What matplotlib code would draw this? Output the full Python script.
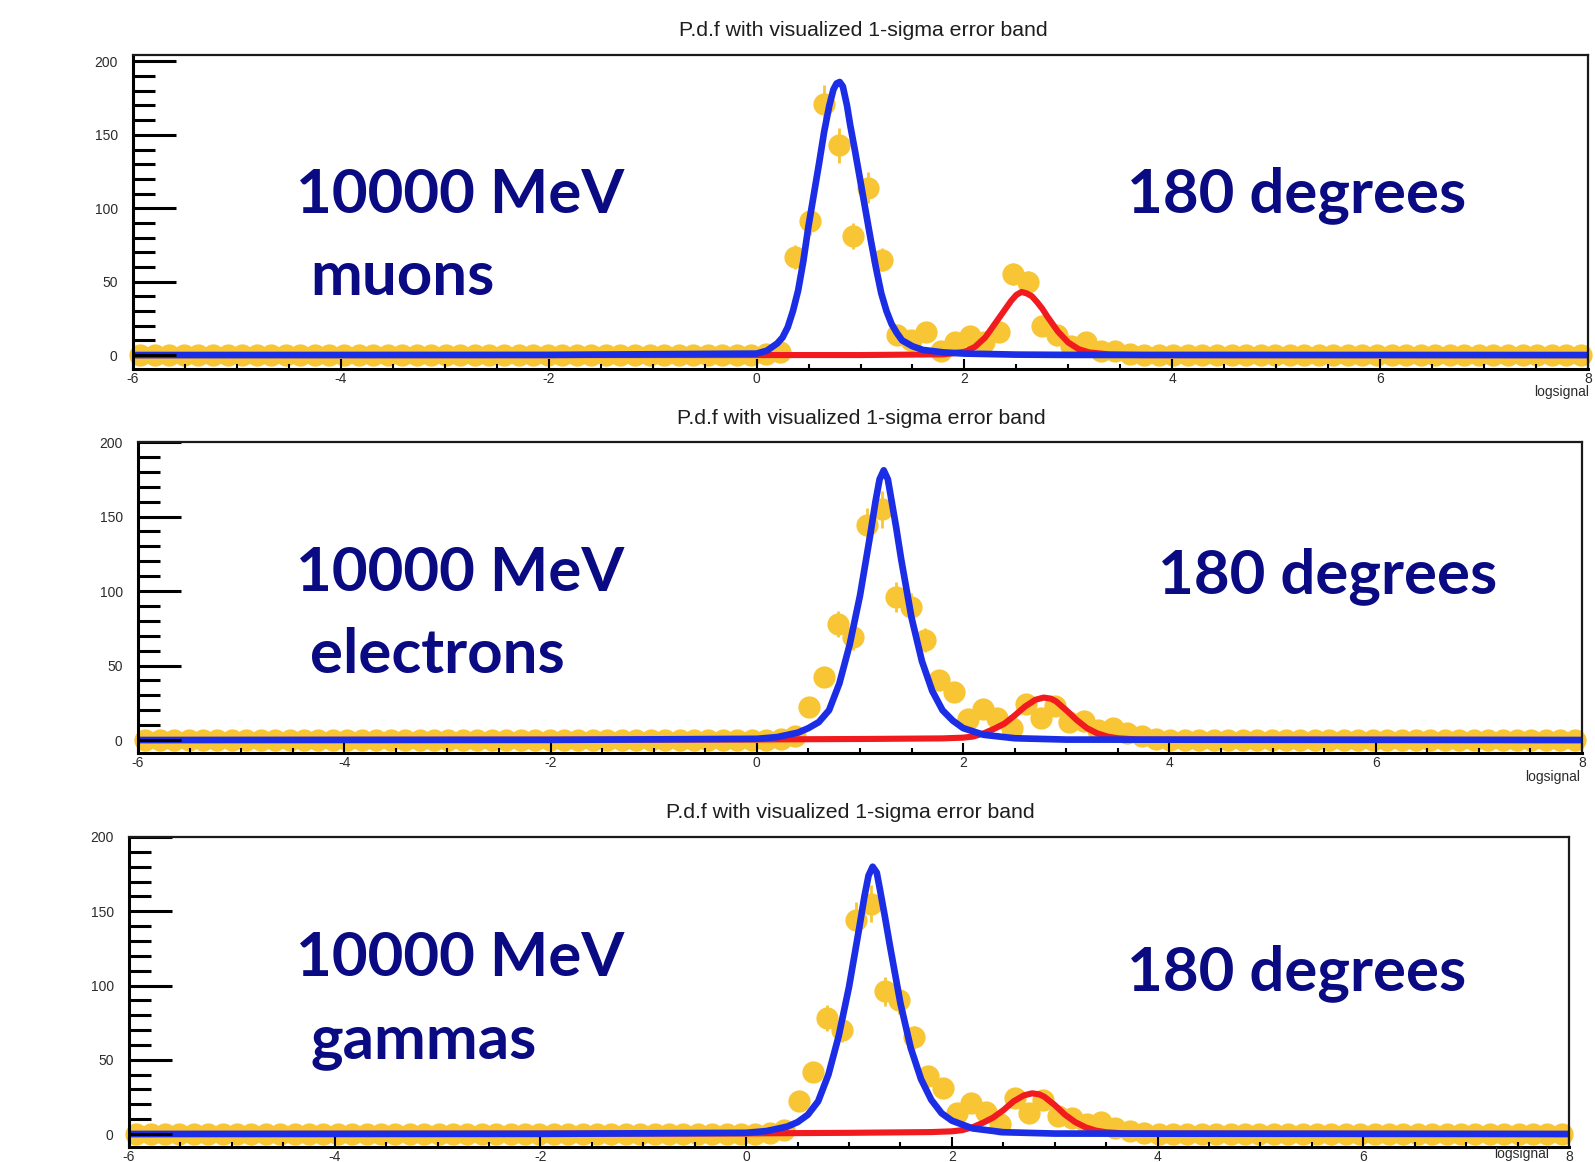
import numpy as np
import matplotlib.pyplot as plt
from matplotlib.ticker import MultipleLocator

# histogram binning (logsignal axis)
n_bins = 100
x_lo, x_hi = -6, 8

# counts per bin
muon_counts = [0] * 43 + [1, 2, 67, 91, 171, 143, 81, 114, 65, 14, 10, 16, 3, 9, 13,
                          9, 16, 55, 50, 20, 14, 6, 9, 3, 3, 1] + [0] * 31
electron_counts = [0] * 44 + [1, 3, 22, 42, 78, 69, 144, 155, 96, 89, 67, 40, 32, 14,
                              21, 15, 8, 24, 15, 23, 12, 13, 7, 8, 5, 3, 1] + [0] * 29
gamma_counts = [0] * 44 + [1, 3, 22, 42, 78, 70, 144, 155, 96, 90, 65, 39, 31, 14,
                           21, 15, 7, 24, 14, 23, 12, 11, 7, 8, 4, 2, 1] + [0] * 29

# fitted pdf components (blue = first peak, red = second peak)
muon_blue_x = [-6, -2, 0.0, 0.1, 0.2, 0.25, 0.3, 0.35, 0.4, 0.45, 0.5, 0.6, 0.65, 0.7,
               0.74, 0.77, 0.8, 0.83, 0.87, 0.9, 0.95, 1.0, 1.1, 1.15, 1.2, 1.25, 1.3,
               1.35, 1.4, 1.5, 1.6, 1.8, 2.0, 2.5, 3.0, 8]
muon_blue_y = [0, 0.1, 1.0, 3, 8, 12, 19, 30, 44, 64, 88, 130, 152, 170,
               181, 185, 186, 183, 170, 157, 138, 118, 78, 59, 42, 30, 21,
               15, 10, 6, 3.5, 1.8, 1.0, 0.3, 0.1, 0]
muon_red_x = [-6, 1.0, 1.8, 2.0, 2.1, 2.2, 2.3, 2.4, 2.45, 2.5, 2.55, 2.6, 2.65, 2.7,
              2.75, 2.8, 2.9, 3.0, 3.1, 3.2, 3.4, 3.7, 8]
muon_red_y = [0, 0, 0.5, 2.2, 5.5, 12, 22, 32, 37, 41, 43, 42, 40, 36,
              31.5, 26, 16, 8.5, 4, 1.8, 0.4, 0, 0]

electron_blue_x = [-6, -2, 0.0, 0.2, 0.4, 0.5, 0.6, 0.7, 0.8, 0.9, 1.0, 1.1, 1.15, 1.19,
                   1.23, 1.27, 1.3, 1.35, 1.4, 1.5, 1.6, 1.7, 1.8, 1.9, 2.0, 2.2, 2.5,
                   3.0, 8]
electron_blue_y = [0, 0.1, 0.8, 2, 5, 8, 12, 20, 38, 64, 97, 138, 160, 175,
                   181, 175, 163, 143, 121, 82, 53, 33, 20, 13, 8, 3.5, 1.2,
                   0.3, 0]
electron_red_x = [-6, 0.0, 1.0, 1.8, 2.0, 2.1, 2.2, 2.3, 2.4, 2.5, 2.6, 2.7, 2.78, 2.85,
                  2.9, 3.0, 3.1, 3.2, 3.3, 3.4, 3.5, 3.7, 8]
electron_red_y = [0, 0.4, 0.7, 1.1, 1.6, 2.4, 4.5, 7.5, 11, 16.5, 22.5, 27, 28.5, 27.8,
                  26, 20, 13.5, 8, 4.5, 2.3, 1.2, 0.3, 0]

gamma_blue_x = [-6, -2, 0.0, 0.2, 0.4, 0.5, 0.6, 0.7, 0.8, 0.9, 1.0, 1.1, 1.15, 1.19,
                1.23, 1.27, 1.3, 1.35, 1.4, 1.5, 1.6, 1.7, 1.8, 1.9, 2.0, 2.2, 2.5,
                3.0, 8]
gamma_blue_y = [0, 0.1, 0.8, 2, 5, 8, 13, 22, 40, 66, 99, 139, 160, 174,
                180, 176, 165, 146, 126, 88, 58, 37, 23, 14, 9, 3.8, 1.2,
                0.3, 0]
gamma_red_x = [-6, 0.0, 1.0, 1.8, 2.0, 2.1, 2.2, 2.3, 2.4, 2.5, 2.6, 2.7, 2.78, 2.85,
               2.9, 3.0, 3.1, 3.2, 3.3, 3.4, 3.5, 3.7, 8]
gamma_red_y = [0, 0.4, 0.8, 1.3, 1.8, 2.6, 4.5, 7.5, 11, 16, 22, 26, 27.4, 26.7,
               25, 19.5, 13, 8, 4.5, 2.3, 1.2, 0.3, 0]

particles = ['muons', 'electrons', 'gammas']
energy_label = '10000 MeV'
angle_label = '180 degrees'
title = 'P.d.f with visualized 1-sigma error band'

yellow = '#f8c534'
blue = '#1c2de6'
red = '#f01a1f'
navy = '#0a0a82'

W, H = 1595, 1162
plt.rcParams['font.family'] = ['Liberation Sans', 'DejaVu Sans']
plt.rcParams['axes.unicode_minus'] = False
fig = plt.figure(figsize=(W / 100, H / 100), dpi=100)


def px_rect(left, right, top, bottom):
    return [left / W, 1 - bottom / H, (right - left) / W, (bottom - top) / H]


panels = [
    dict(rect=px_rect(133, 1588, 55, 369), ylim=(-9.5, 204.4), counts=muon_counts,
         bx=muon_blue_x, by=muon_blue_y, rx=muon_red_x, ry=muon_red_y,
         title_xy=(863, 31), logsig_xy=(1562, 392), logsig_va='center',
         e_xy=(296, 213), p_xy=(310, 295), a_xy=(1127, 212)),
    dict(rect=px_rect(138, 1582, 442, 753), ylim=(-8.7, 200), counts=electron_counts,
         bx=electron_blue_x, by=electron_blue_y, rx=electron_red_x, ry=electron_red_y,
         title_xy=(861, 418), logsig_xy=(1553, 777), logsig_va='center',
         e_xy=(296, 591), p_xy=(310, 673), a_xy=(1158, 593)),
    dict(rect=px_rect(129, 1569, 837, 1147), ylim=(-8.75, 200), counts=gamma_counts,
         bx=gamma_blue_x, by=gamma_blue_y, rx=gamma_red_x, ry=gamma_red_y,
         title_xy=(850, 813), logsig_xy=(1522, 1161), logsig_va='bottom',
         e_xy=(296, 976), p_xy=(310, 1058), a_xy=(1127, 990)),
]

bin_width = (x_hi - x_lo) / n_bins
centers = x_lo + bin_width * (np.arange(n_bins) + 0.5)

for p, name in zip(panels, particles):
    ax = fig.add_axes(p['rect'])
    counts = np.array(p['counts'], dtype=float)

    ax.errorbar(centers, counts, yerr=np.sqrt(counts), fmt='o', ms=16, mew=0,
                color=yellow, ecolor=yellow, elinewidth=2, capsize=7, capthick=2,
                clip_on=False, zorder=1)
    ax.plot(p['rx'], p['ry'], color=red, lw=4.4, solid_capstyle='butt', zorder=2)
    ax.plot(p['bx'], p['by'], color=blue, lw=4.8, solid_capstyle='butt', zorder=3)

    ax.set_xlim(x_lo, x_hi)
    ax.set_ylim(*p['ylim'])
    ax.set_xticks(np.arange(-6, 9, 2))
    ax.xaxis.set_minor_locator(MultipleLocator(0.5))
    ax.set_yticks([0, 50, 100, 150, 200])
    ax.yaxis.set_minor_locator(MultipleLocator(10))

    ax.tick_params(axis='y', which='major', direction='in', length=31, width=2.2,
                   pad=11, labelsize=10, labelcolor='#2b2b2b')
    ax.tick_params(axis='y', which='minor', direction='in', length=16, width=2.2)
    ax.tick_params(axis='x', which='major', direction='in', length=7, width=1.5,
                   pad=2, labelsize=10, labelcolor='#2b2b2b')
    ax.tick_params(axis='x', which='minor', direction='in', length=3.5, width=1.5)
    ax.xaxis.set_zorder(5)
    ax.yaxis.set_zorder(5)

    for side in ['left', 'bottom']:
        ax.spines[side].set_linewidth(2.2)
    for side in ['top', 'right']:
        ax.spines[side].set_linewidth(1.6)
        ax.spines[side].set_color('#1a1a1a')
    for s in ax.spines.values():
        s.set_zorder(6)

    tx, ty = p['title_xy']
    fig.text(tx / W, 1 - ty / H, title, ha='center', va='center', fontsize=15.3,
             color='#1e1e1e')
    lx, ly = p['logsig_xy']
    fig.text(lx / W, 1 - ly / H, 'logsignal', ha='center', va=p['logsig_va'],
             fontsize=10, color='#2b2b2b')

    big = dict(fontsize=44.5, fontweight='bold', color=navy, family='Lato',
               va='baseline', ha='left')
    ex, ey = p['e_xy']
    fig.text(ex / W, 1 - ey / H, energy_label, **big)
    nx, ny = p['p_xy']
    fig.text(nx / W, 1 - ny / H, name, **big)
    axx, axy = p['a_xy']
    fig.text(axx / W, 1 - axy / H, angle_label, **big)

fig.savefig('out.png', dpi=100)
